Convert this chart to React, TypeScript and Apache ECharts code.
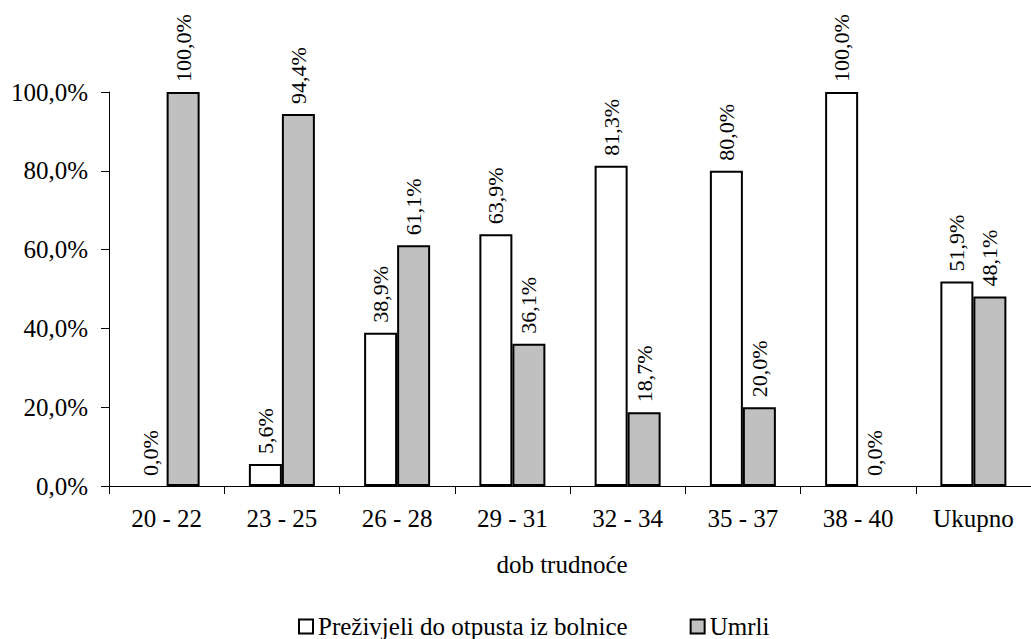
import React, { useEffect, useRef } from "react";
import * as echarts from "echarts";

const categories = ["20 - 22", "23 - 25", "26 - 28", "29 - 31", "32 - 34", "35 - 37", "38 - 40", "Ukupno"];
const survived = [0, 5.6, 38.9, 63.9, 81.3, 80.0, 100.0, 51.9];
const died = [100.0, 94.4, 61.1, 36.1, 18.7, 20.0, 0, 48.1];
const seriesNames = ["Preživjeli do otpusta iz bolnice", "Umrli"];
const axisTitle = "dob trudnoće";

const FONT = "Liberation Serif";
const fmt = (v: number) => v.toFixed(1).replace(".", ",") + "%";

export default function App() {
  const ref = useRef<HTMLDivElement>(null);
  useEffect(() => {
    const chart = echarts.init(ref.current!, undefined, { renderer: "svg" });
    const label = {
      show: true,
      position: "top",
      rotate: 90,
      align: "left",
      verticalAlign: "middle",
      distance: 10,
      fontFamily: FONT,
      fontSize: 22,
      color: "#000",
      formatter: (p: any) => fmt(p.value),
    };
    const items = (arr: number[]) =>
      arr.map((v) => (v === 0 ? { value: v, itemStyle: { borderWidth: 0 } } : v));
    chart.setOption({
      animation: false,
      backgroundColor: "#fff",
      textStyle: { fontFamily: FONT, color: "#000" },
      grid: { left: 109, right: -11, top: 92, bottom: 153, containLabel: false },
      xAxis: {
        type: "category",
        data: categories,
        axisLine: { lineStyle: { color: "#000", width: 1 } },
        axisTick: { show: true, length: 8, lineStyle: { color: "#000" } },
        axisLabel: { fontFamily: FONT, fontSize: 25, color: "#000", margin: 20 },
      },
      yAxis: {
        type: "value",
        min: 0,
        max: 100,
        interval: 20,
        splitLine: { show: false },
        axisLine: { show: true, lineStyle: { color: "#000", width: 1 } },
        axisTick: { show: true, length: 8, lineStyle: { color: "#000" } },
        axisLabel: { fontFamily: FONT, fontSize: 25, color: "#000", margin: 21, formatter: (v: number) => fmt(v) },
      },
      legend: {
        top: 614,
        left: 298,
        icon: "rect",
        itemWidth: 14,
        itemHeight: 14,
        itemGap: 62,
        padding: 0,
        textStyle: { fontFamily: FONT, fontSize: 25, color: "#000" },
        data: seriesNames,
      },
      graphic: [
        {
          type: "text",
          x: 562,
          y: 564,
          style: { text: axisTitle, fontFamily: FONT, fontSize: 25, fill: "#000", align: "center", verticalAlign: "middle" },
        },
      ],
      series: [
        {
          name: seriesNames[0],
          type: "bar",
          data: items(survived),
          barWidth: 33,
          barGap: "0%",
          itemStyle: { color: "#fff", borderColor: "#000", borderWidth: 2 },
          label,
        },
        {
          name: seriesNames[1],
          type: "bar",
          data: items(died),
          barWidth: 33,
          barGap: "0%",
          itemStyle: { color: "#c0c0c0", borderColor: "#000", borderWidth: 2 },
          label,
        },
      ],
    });
    return () => chart.dispose();
  }, []);
  return (
    <div style={{ position: "fixed", left: 0, top: 0 }}>
      <div ref={ref} style={{ width: 1031, height: 639 }} />
    </div>
  );
}
